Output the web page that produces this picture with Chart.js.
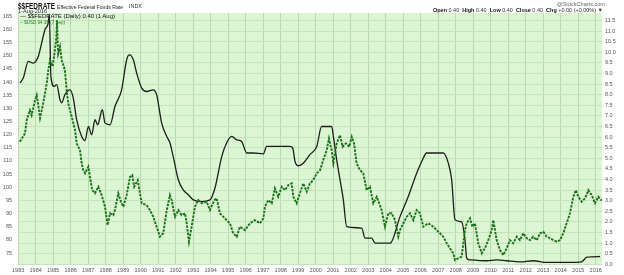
<!DOCTYPE html>
<html>
<head>
<meta charset="utf-8">
<script src="https://cdn.jsdelivr.net/npm/chart.js@4.4.1/dist/chart.umd.min.js"></script>
<style>
  html, body { margin: 0; padding: 0; background: #fff; }
  #wrap { position: relative; width: 624px; height: 275px; overflow: hidden; font-family: "Liberation Sans", Arial, sans-serif; }
  #c { position: absolute; left: 0; top: 0; }
  .t { position: absolute; white-space: nowrap; line-height: 1; transform-origin: 0 0; }
  #sym { left: 18px; top: 2px; font-size: 9px; font-weight: bold; color: #111; }
  #desc { left: 57px; top: 3.5px; font-size: 6.2px; color: #222; }
  #exch { left: 129px; top: 4.5px; font-size: 4.8px; color: #333; }
  #date { left: 18px; top: 8.5px; font-size: 5.3px; color: #222; }
  #copy { left: 557px; top: 2px; font-size: 5.5px; color: #666; }
  #ohlc { left: 433px; top: 8px; font-size: 5.5px; color: #333; }
  #ohlc b { color: #111; }
  #leg1 { left: 20px; top: 13.5px; font-size: 5.8px; color: #111; }
  #leg2 { left: 20px; top: 19.5px; font-size: 5.3px; color: #1b7d1b; }
</style>
</head>
<body>
<div id="wrap">
  <canvas id="c" width="624" height="275"></canvas>
  <div class="t" id="sym" data-w="37">$$FEDRATE</div>
  <div class="t" id="desc" data-w="66">Effective Federal Funds Rate</div>
  <div class="t" id="exch" data-w="13">INDX</div>
  <div class="t" id="date" data-w="29">1-Aug-2016</div>
  <div class="t" id="copy" data-w="48">@StockCharts.com</div>
  <div class="t" id="ohlc" data-w="170"><b>Open</b> 0.40 &nbsp;<b>High</b> 0.40 &nbsp;<b>Low</b> 0.40 &nbsp;<b>Close</b> 0.40 &nbsp;<b>Chg</b> +0.00 (+0.00%) ▼</div>
  <div class="t" id="leg1" data-w="95">— $$FEDRATE (Daily) 0.40 (1 Aug)</div>
  <div class="t" id="leg2" data-w="45">-- $USD 94.95 (7 Sep)</div>
</div>
<script>
// ---- data (x positions as decimal years) ----
const fedYears = [1983.10,1983.29,1983.58,1983.86,1984.15,1984.34,1984.53,1984.72,1984.78,1984.87,1985.06,1985.20,1985.39,1985.49,1985.67,1985.96,1986.15,1986.34,1986.63,1986.82,1987.01,1987.20,1987.39,1987.54,1987.81,1987.96,1988.25,1988.53,1988.91,1989.20,1989.35,1989.58,1989.77,1990.06,1990.34,1990.72,1990.91,1991.20,1991.49,1991.67,1991.86,1992.15,1992.43,1992.72,1993.01,1993.49,1993.96,1994.25,1994.43,1994.63,1994.91,1995.20,1995.49,1995.77,1996.06,1996.43,1997.01,1997.20,1998.53,1998.69,1998.82,1999.01,1999.29,1999.67,2000.06,2000.34,2000.91,2001.01,2001.20,2001.39,2001.58,2001.77,2002.63,2002.82,2003.20,2003.39,2004.25,2004.82,2005.29,2005.77,2006.06,2006.34,2007.29,2007.58,2007.77,2007.96,2008.34,2008.53,2008.63,2008.82,2009.77,2010.34,2010.91,2011.67,2012.43,2013.20,2014.34,2015.20,2015.49,2016.25];
const fedRates = [8.55,8.78,9.57,9.49,9.80,10.43,11.06,11.38,11.80,8.86,8.39,8.47,7.76,7.62,8.00,8.23,7.84,6.82,6.03,5.84,6.50,6.11,6.82,6.58,7.29,6.67,6.58,7.44,8.23,9.65,9.88,9.65,9.02,8.31,8.15,8.23,8.00,6.66,6.03,5.73,5.08,3.99,3.51,3.28,3.04,2.96,3.04,3.61,4.30,5.08,5.72,6.03,5.87,5.79,5.25,5.25,5.21,5.56,5.56,5.48,4.85,4.65,4.77,5.17,5.56,6.50,6.50,6.03,4.93,3.99,3.04,1.78,1.71,1.24,1.24,1.00,1.00,2.25,3.20,4.30,4.85,5.25,5.25,4.77,3.99,2.10,2.00,1.16,0.29,0.21,0.17,0.21,0.17,0.12,0.17,0.09,0.09,0.12,0.34,0.37];

const usdYears = [1983.10,1983.39,1983.49,1983.67,1983.77,1983.96,1984.06,1984.15,1984.25,1984.43,1984.63,1984.72,1984.82,1984.97,1985.10,1985.18,1985.22,1985.26,1985.29,1985.39,1985.49,1985.67,1985.77,1985.86,1986.06,1986.25,1986.34,1986.53,1986.63,1986.72,1986.82,1987.01,1987.10,1987.23,1987.39,1987.58,1987.77,1987.96,1988.11,1988.25,1988.43,1988.53,1988.72,1988.87,1989.01,1989.20,1989.39,1989.52,1989.63,1989.83,1989.96,1990.06,1990.34,1990.53,1990.72,1990.91,1991.10,1991.29,1991.49,1991.67,1991.77,1991.96,1992.15,1992.34,1992.53,1992.63,1992.76,1992.91,1993.10,1993.29,1993.49,1993.77,1993.96,1994.21,1994.34,1994.53,1994.72,1994.91,1995.10,1995.29,1995.49,1995.67,1995.96,1996.25,1996.53,1996.82,1997.01,1997.10,1997.29,1997.49,1997.67,1997.86,1998.06,1998.25,1998.43,1998.63,1998.72,1998.91,1999.10,1999.29,1999.49,1999.67,1999.86,2000.06,2000.25,2000.43,2000.63,2000.76,2000.91,2001.01,2001.20,2001.39,2001.54,2001.73,2001.92,2002.06,2002.19,2002.34,2002.53,2002.72,2002.91,2003.10,2003.29,2003.49,2003.77,2003.96,2004.15,2004.34,2004.53,2004.72,2004.82,2005.01,2005.20,2005.39,2005.58,2005.77,2005.96,2006.15,2006.43,2006.72,2007.01,2007.29,2007.49,2007.67,2007.86,2007.96,2008.15,2008.34,2008.53,2008.63,2008.82,2008.95,2009.10,2009.29,2009.49,2009.67,2009.86,2010.06,2010.15,2010.34,2010.53,2010.72,2010.91,2011.10,2011.29,2011.49,2011.67,2011.86,2012.06,2012.25,2012.43,2012.63,2012.82,2013.01,2013.20,2013.39,2013.58,2013.77,2013.96,2014.15,2014.34,2014.53,2014.72,2014.87,2015.01,2015.20,2015.39,2015.58,2015.77,2015.96,2016.15,2016.34];
const usdValues = [117.3,120.5,125.5,129.3,127.4,133.1,135.0,131.2,126.3,131.9,139.4,144.5,148.3,146.0,152.0,157.0,163.5,154.6,150.8,153.4,148.3,144.5,136.9,131.9,126.8,121.7,116.7,114.1,109.1,106.5,105.3,107.8,104.0,98.9,97.7,100.2,97.0,92.6,85.6,90.1,89.4,91.3,97.7,94.5,92.6,97.0,104.0,104.6,100.2,102.7,97.7,93.9,93.2,91.3,88.8,85.0,81.2,82.5,91.3,97.0,95.1,88.8,91.3,89.4,90.1,86.3,79.3,85.0,92.6,95.1,93.9,94.5,91.3,95.1,95.8,90.1,88.8,87.5,86.3,82.5,81.2,85.0,83.7,86.3,87.5,86.3,88.2,92.6,95.1,93.9,99.6,96.4,100.2,98.9,100.8,101.5,96.4,93.9,97.7,101.5,98.3,101.5,102.7,105.3,106.5,110.3,114.1,118.6,114.1,109.1,116.7,119.8,115.4,116.7,115.4,119.2,116.7,109.1,106.5,105.3,98.9,100.2,93.9,96.4,91.3,85.0,90.1,90.1,87.5,81.2,83.7,86.3,88.8,90.1,87.5,91.3,90.1,85.0,86.3,85.0,83.1,81.2,78.7,76.8,74.9,72.3,73.0,73.6,83.7,86.3,88.2,85.0,86.3,78.7,74.9,76.8,79.9,83.7,87.5,79.9,76.1,74.2,76.8,79.9,78.7,81.2,79.9,82.5,80.6,79.9,81.2,79.9,82.5,83.1,81.2,80.6,79.9,79.3,79.9,82.5,86.3,90.1,96.4,98.9,96.4,94.5,95.8,98.9,97.0,93.9,96.4,94.95];

const yearLabels = [1983,1984,1985,1986,1987,1988,1989,1990,1991,1992,1993,1994,1995,1996,1997,1998,1999,2000,2001,2002,2003,2004,2005,2006,2007,2008,2009,2010,2011,2012,2013,2014,2015,2016];
const usdTicks = [75,80,85,90,95,100,105,110,115,120,125,130,135,140,145,150,155,160,165];
const fedTicks = [0,0.5,1,1.5,2,2.5,3,3.5,4,4.5,5,5.5,6,6.5,7,7.5,8,8.5,9,9.5,10,10.5,11,11.5];

// fit header texts to their measured widths in the reference
document.querySelectorAll('.t[data-w]').forEach(el => {
  const w = el.getBoundingClientRect().width;
  const target = parseFloat(el.dataset.w);
  if (w > 0) el.style.transform = 'scaleX(' + (target / w) + ')';
});

// ---- chart ----
const bgPlugin = {
  id: 'bg',
  beforeDraw(chart) {
    const a = chart.chartArea, ctx = chart.ctx;
    ctx.save();
    ctx.fillStyle = '#dcf6d3';
    ctx.fillRect(a.left, a.top, a.right - a.left, a.bottom - a.top);
    ctx.restore();
  }
};

const tickFont = { family: '"Liberation Sans", Arial, sans-serif', size: 5.5 };

new Chart(document.getElementById('c'), {
  type: 'line',
  data: {
    datasets: [
      {
        label: '$$FEDRATE',
        data: fedYears.map((x, i) => ({ x, y: fedRates[i] })),
        yAxisID: 'fed',
        borderColor: '#1e1e1e',
        borderWidth: 1.3,
        pointRadius: 0,
        cubicInterpolationMode: 'monotone',
        order: 2
      },
      {
        label: '$USD',
        data: usdYears.map((x, i) => ({ x, y: usdValues[i] })),
        yAxisID: 'usd',
        borderColor: '#187218',
        borderWidth: 1.9,
        borderDash: [2.5, 1.2],
        pointRadius: 0,
        tension: 0,
        order: 1
      }
    ]
  },
  options: {
    responsive: false,
    animation: false,
    events: [],
    layout: { padding: { top: 13, left: 0, right: 0, bottom: 0 } },
    plugins: { legend: { display: false }, tooltip: { enabled: false } },
    scales: {
      x: {
        type: 'linear',
        min: 1982.99,
        max: 2016.36,
        afterBuildTicks: s => { s.ticks = yearLabels.map(v => ({ value: v })); },
        afterFit: s => { s.height = 10; },
        ticks: { font: tickFont, color: '#555', padding: 2, maxRotation: 0, autoSkip: false, callback: v => String(v) },
        grid: { color: '#b6dcae', lineWidth: 1, drawTicks: false },
        border: { display: false }
      },
      usd: {
        type: 'linear',
        position: 'left',
        min: 70.44,
        max: 166.25,
        afterBuildTicks: s => { s.ticks = usdTicks.map(v => ({ value: v })); },
        afterFit: s => { s.width = 18; },
        ticks: { font: tickFont, color: '#555', padding: 6, callback: v => String(v) },
        grid: { display: false, drawTicks: false },
        border: { display: false }
      },
      fed: {
        type: 'linear',
        position: 'right',
        min: -0.03,
        max: 11.85,
        afterBuildTicks: s => { s.ticks = fedTicks.map(v => ({ value: v })); },
        afterFit: s => { s.width = 22; },
        ticks: { font: tickFont, color: '#555', padding: 3, callback: v => Number(v).toFixed(1) },
        grid: { color: '#c4e6bd', lineWidth: 1, drawTicks: false },
        border: { display: false }
      }
    }
  },
  plugins: [bgPlugin]
});
</script>
</body>
</html>
